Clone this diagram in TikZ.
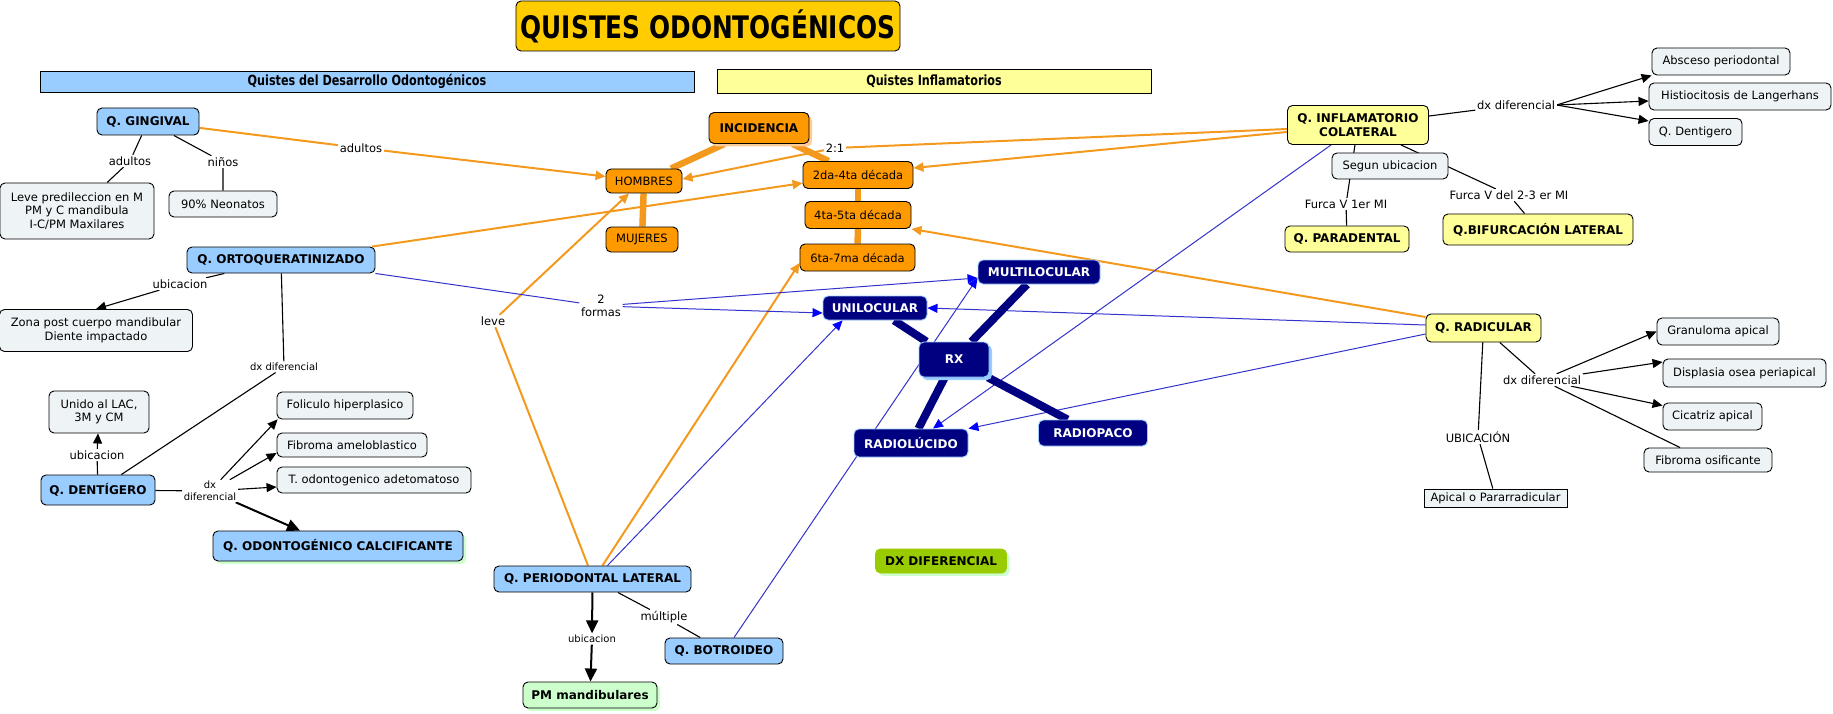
\documentclass[tikz,border=0pt]{standalone}
\usepackage{fontspec}
\setmainfont{DejaVu Sans}
\newfontfamily\condf[FakeStretch=0.8]{DejaVu Sans}
\usetikzlibrary{arrows.meta,shadows,backgrounds}
\definecolor{lblue}{HTML}{99CCFF}
\definecolor{lgray}{HTML}{EEF3F6}
\definecolor{lyel}{HTML}{FFFF99}
\definecolor{orn}{HTML}{FF9900}
\definecolor{ornline}{HTML}{F39A1E}
\definecolor{navy}{HTML}{000080}
\definecolor{gold}{HTML}{FFCC00}
\definecolor{lgreen}{HTML}{CCFFCC}
\definecolor{olive}{HTML}{99CC00}
\definecolor{bline}{HTML}{3333CC}
\definecolor{bhead}{HTML}{0000FF}
\definecolor{lorn}{HTML}{FFCC99}
\tikzset{
  fn/.style={font=\fontsize{11.5}{13.5}\selectfont},
  fb/.style={font=\fontsize{12}{14}\selectfont\bfseries},
  fs/.style={font=\fontsize{10}{11.5}\selectfont},
  sz/.style 2 args={minimum width=#1pt, minimum height=#2pt},
  box/.style={rounded corners=5pt, draw=black, line width=0.9pt, align=center, inner sep=1pt, fn},
  gbox/.style={box, fill=lgray},
  cbox/.style={box, fb, fill=lblue},
  ybox/.style={box, fb, fill=lyel},
  obox/.style={box, fill=orn},
  nbox/.style={box, fb, fill=navy, draw=lblue, text=white},
  lbl/.style={fill=white, inner sep=1.5pt, align=center, fn},
  slbl/.style={fill=white, inner sep=1.5pt, align=center, fs},
  ln/.style={draw=black, line width=1.1pt},
  arr/.style={-{Triangle[length=10pt,width=9pt]}},
  tarr/.style={-{Triangle[length=13pt,width=12pt]}},
  oln/.style={draw=ornline, line width=2pt},
  oarr/.style={-{Triangle[length=10pt,width=9pt]}},
  othick/.style={draw=ornline, line width=6.5pt},
  bln/.style={draw=bline, line width=1pt},
  barr/.style={-{Triangle[length=10pt,width=9pt,color=bhead]}},
  nthick/.style={draw=navy, line width=8pt},
  sh/.style={drop shadow={fill=#1, shadow xshift=3pt, shadow yshift=-3pt, opacity=1}},
}
\begin{document}
\begin{tikzpicture}[x=1pt,y=-1pt]
\useasboundingbox (0,0) rectangle (1833,714);
% titles
\node[box, fill=gold, sz={384}{50}, font=\condf\bfseries\fontsize{31}{34}\selectfont] (title) at (708,26) {QUISTES ODONTOGÉNICOS};
\node[draw=black, line width=0.8pt, fill=lblue, sz={654}{21}, inner sep=0pt, font=\condf\bfseries\fontsize{14}{16}\selectfont] (h1) at (367,81.5) {Quistes del Desarrollo Odontogénicos};
\node[draw=black, line width=0.8pt, fill=lyel, sz={434}{24}, inner sep=0pt, font=\condf\bfseries\fontsize{14}{16}\selectfont] (h2) at (934,81) {Quistes Inflamatorios};
% left column
\node[cbox, sz={102}{27}] (ging) at (148,121.5) {Q. GINGIVAL};
\node[gbox, sz={154}{56}] (leve) at (77,211) {Leve predileccion en M\\PM y C mandibula\\I-C/PM Maxilares};
\node[gbox, sz={108}{26}] (neo) at (223,204) {90\% Neonatos};
\node[lbl] (lad) at (130,161) {adultos};
\node[lbl] (lni) at (223,162) {niños};
\node[lbl] (lad2) at (361,148) {adultos};
\node[cbox, sz={188}{26}] (orto) at (281,260) {Q. ORTOQUERATINIZADO};
\node[lbl] (lub1) at (180,284) {ubicacion};
\node[gbox, sz={193}{42}] (zona) at (96,330.5) {Zona post cuerpo mandibular\\Diente impactado};
\node[slbl] (ldx1) at (284,367) {dx diferencial};
\node[gbox, sz={100}{42}] (unido) at (99,412) {Unido al LAC,\\3M y CM};
\node[lbl] (lub2) at (97,455) {ubicacion};
\node[cbox, sz={114}{30}] (dent) at (98,490) {Q. DENTÍGERO};
\node[slbl] (ldx2) at (210,491) {dx\\diferencial};
\node[gbox, sz={136}{27}] (fol) at (345,405.5) {Foliculo hiperplasico};
\node[gbox, sz={150}{24}] (fib) at (352,445) {Fibroma ameloblastico};
\node[gbox, sz={194}{26}] (todo) at (374,480) {T. odontogenico adetomatoso};
\node[cbox, sz={250}{30}, sh=lgreen] (calc) at (338,546) {Q. ODONTOGÉNICO CALCIFICANTE};
% incidence
\node[obox, fb, sz={100}{31}, sh=lorn] (incid) at (759,128) {INCIDENCIA};
\node[obox, sz={76}{24}] (homb) at (644,181) {HOMBRES};
\node[obox, sz={72}{25}] (muj) at (642,239.5) {MUJERES};
\node[obox, sz={110}{27}] (d24) at (858,175) {2da-4ta década};
\node[obox, sz={106}{27}] (d45) at (858,215) {4ta-5ta década};
\node[obox, sz={115}{27}] (d67) at (857.5,257.5) {6ta-7ma década};
\node[lbl] (l21) at (835,148) {2:1};
\node[lbl] (lfor) at (601,306) {2\\formas};
\node[lbl] (lleve) at (493,321) {leve};
% RX
\node[nbox, sz={122}{24}] (multi) at (1039,272) {MULTILOCULAR};
\node[nbox, sz={104}{24}] (uni) at (875,308) {UNILOCULAR};
\node[nbox, sz={70}{35}, sh=lblue] (rx) at (954,359.5) {RX};
\node[nbox, sz={114}{28}] (rlu) at (911,443) {RADIOLÚCIDO};
\node[nbox, sz={109}{26}] (rop) at (1093,433) {RADIOPACO};
\node[box, fb, fill=olive, draw=olive, sz={131}{24}, sh=lgreen] (dxd) at (941,561) {DX DIFERENCIAL};
% inflamatorio
\node[ybox, sz={141}{39}] (infl) at (1358,125) {Q. INFLAMATORIO\\COLATERAL};
\node[lbl] (ldx3) at (1516,105) {dx diferencial};
\node[gbox, sz={138}{27}] (absc) at (1721,61.5) {Absceso periodontal};
\node[gbox, sz={182}{27}] (hist) at (1740,96.5) {Histiocitosis de Langerhans};
\node[gbox, sz={93}{27}] (qden) at (1695.5,132) {Q. Dentigero};
\node[lbl] (lf1) at (1346,204) {Furca V 1er MI};
\node[lbl] (lf2) at (1509,195) {Furca V del 2-3 er MI};
\node[ybox, sz={124}{26}] (para) at (1347,239) {Q. PARADENTAL};
\node[ybox, sz={190}{31}] (bif) at (1538,229.5) {Q.BIFURCACIÓN LATERAL};
\node[gbox, sz={116}{26}] (segun) at (1390,166) {Segun ubicacion};
% radicular
\node[ybox, sz={115}{28}] (radi) at (1483.5,328) {Q. RADICULAR};
\node[lbl] (ldx4) at (1542,380) {dx diferencial};
\node[gbox, sz={122}{27}] (gran) at (1718,331.5) {Granuloma apical};
\node[gbox, sz={163}{28}] (disp) at (1744.5,373) {Displasia osea periapical};
\node[gbox, sz={99}{27}] (cica) at (1712.5,416.5) {Cicatriz apical};
\node[gbox, sz={128}{24}] (fibo) at (1708,460) {Fibroma osificante};
\node[lbl] (lubi) at (1478,437) {UBICACIÓN};
\node[draw=black, line width=0.9pt, fill=lgray, sz={143}{18}, inner sep=1pt, fn] (apic) at (1495.5,498) {Apical o Pararradicular};
% periodontal
\node[cbox, sz={197}{26}] (peri) at (592.5,579) {Q. PERIODONTAL LATERAL};
\node[slbl] (lub3) at (592,639) {ubicacion};
\node[box, fb, fill=lgreen, sz={134}{26}, sh=lgreen] (pm) at (590,695) {PM mandibulares};
\node[lbl] (lmul) at (664,617) {múltiple};
\node[cbox, sz={118}{26}] (botr) at (724,651) {Q. BOTROIDEO};

\begin{scope}[on background layer]
% black connectors
\draw[ln] (ging) -- (lad) -- (leve);
\draw[ln] (ging) -- (lni) -- (neo);
\draw[ln] (orto) -- (lub1);
\draw[ln,arr] (lub1) -- (zona.north);
\draw[ln] (orto) -- (ldx1) -- (dent);
\draw[ln] (dent) -- (lub2);
\draw[ln,arr] (lub2) -- (unido);
\draw[ln] (dent) -- (ldx2);
\draw[ln,arr] (ldx2) -- ([xshift=1pt]fol.south west);
\draw[ln,arr] (ldx2) -- ([yshift=-8pt]fib.west);
\draw[ln,arr] (ldx2) -- ([yshift=-7pt]todo.west);
\draw[line width=2pt,tarr] (ldx2) -- ([xshift=-38pt]calc.north);
\draw[line width=2pt,tarr] (peri) -- (lub3);
\draw[line width=2pt,tarr] (lub3) -- (pm);
\draw[ln] (peri) -- (lmul) -- (botr);
\draw[ln] (infl) -- (ldx3);
\draw[ln,arr] (ldx3.east) -- (absc.south west);
\draw[ln,arr] (ldx3.east) -- ([yshift=-4.5pt]hist.west);
\draw[ln,arr] (ldx3.east) -- ([yshift=11pt]qden.west);
\draw[ln] (infl) -- (lf1) -- (para);
\draw[ln] (infl) -- (lf2) -- (bif);
\draw[ln] (radi) -- (lubi) -- (apic);
\draw[ln] (radi) -- (ldx4);
\draw[ln,arr] (ldx4) -- (gran.west);
\draw[ln,arr] (ldx4) -- ([yshift=11pt]disp.west);
\draw[ln,arr] (ldx4) -- ([yshift=11pt]cica.west);
\draw[ln] (ldx4) -- ([xshift=-28pt]fibo.north);
% orange connectors
\draw[oln] (ging) -- (lad2);
\draw[oln,oarr] (lad2) -- (homb);
\draw[oln,oarr] (orto) -- (d24);
\draw[oln] ([yshift=-4pt]infl.west) -- (l21);
\draw[oln,oarr] (l21) -- ([yshift=2pt]homb.east);
\draw[oln,oarr] ([yshift=-7pt]infl.west) -- ([yshift=7pt]d24.east);
\draw[oln,oarr] ([yshift=11pt]radi.west) -- (d45.south east);
\draw[oln] ([xshift=-4.5pt]peri.north) -- (lleve);
\draw[oln,oarr] (lleve) -- ([xshift=-15pt]homb.south);
\draw[oln,oarr] ([xshift=10pt]peri.north) -- ([yshift=-5.5pt]d67.west);
\draw[othick] (incid) -- (homb);
\draw[othick] (incid) -- (d24);
\draw[othick] (homb) -- (muj);
\draw[othick] (d24) -- (d45);
\draw[othick] (d45) -- (d67);
% blue connectors
\draw[bln] (orto.south east) -- (lfor);
\draw[bln,barr] (lfor) -- ([yshift=-5pt]uni.west);
\draw[bln,barr] (lfor) -- ([yshift=-6pt]multi.west);
\draw[bln,barr] ([xshift=15pt]peri.north) -- ([xshift=20pt]uni.south west);
\draw[bln,barr] ([xshift=10pt]botr.north) -- ([yshift=-6pt]multi.west);
\draw[bln,barr] ([xshift=44pt]infl.south west) -- ([xshift=22pt]rlu.north);
\draw[bln,barr] ([yshift=3pt]radi.west) -- (uni.east);
\draw[bln,barr] ([yshift=-6pt]radi.west) -- (rlu.north east);
% navy thick
\draw[nthick] (rx) -- (uni);
\draw[nthick] (rx) -- (multi);
\draw[nthick] (rx) -- (rlu);
\draw[nthick] (rx) -- (rop);
\end{scope}
\end{tikzpicture}
\end{document}
